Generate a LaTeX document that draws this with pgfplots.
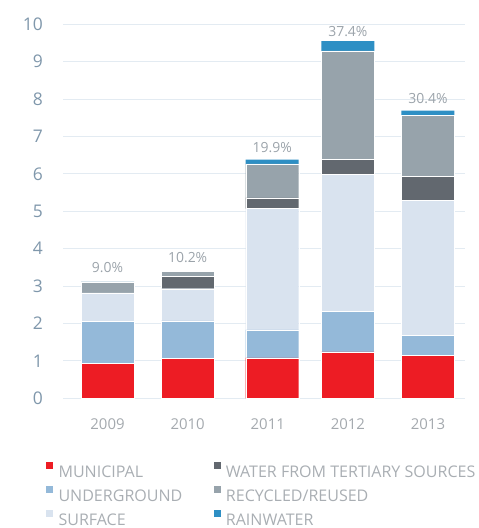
\documentclass[border=0pt]{standalone}
\usepackage{pgfplots}
\pgfplotsset{compat=1.18}
\usepackage{fontspec}
\setmainfont{Open Sans}
\definecolor{muni}{HTML}{ED1C24}
\definecolor{under}{HTML}{94B9D9}
\definecolor{surf}{HTML}{D9E3EF}
\definecolor{tert}{HTML}{62686F}
\definecolor{recy}{HTML}{97A3AB}
\definecolor{rain}{HTML}{2E8FC4}
\definecolor{gridc}{HTML}{E3EBF2}
\definecolor{ytc}{HTML}{7F97AB}
\definecolor{xtc}{HTML}{A4A9AE}
\definecolor{pct}{HTML}{9BA3AA}
\definecolor{legc}{HTML}{A9AEB3}
\begin{document}
\begin{tikzpicture}
\useasboundingbox (0,0) rectangle (479bp,528bp);
\begin{axis}[
  at={(63bp,129.7bp)}, anchor=south west,
  scale only axis, width=401.5bp, height=374bp,
  ybar stacked, bar width=53bp,
  xmin=-0.556, xmax=4.456, ymin=0, ymax=10,
  enlarge x limits=false, enlarge y limits=false,
  xtick={0,1,2,3,4}, xticklabels={2009,2010,2011,2012,2013},
  ytick={0,1,...,10},
  axis line style={draw=none}, major tick style={draw=none},
  ymajorgrids, grid style={gridc, line width=0.9bp},
  yticklabel style={font=\fontsize{17.5}{17.5}\selectfont, text=ytc, anchor=east, inner sep=0pt, xshift=-20bp},
  xticklabel style={font=\fontsize{15}{15}\selectfont, text=xtc, anchor=north, inner sep=0pt, yshift=-20bp},
  /pgf/number format/assume math mode=true,
  legend columns=2,
  legend image code/.code={\fill[#1] (0bp,2bp) rectangle (8bp,10bp); \path (13bp,2bp);},
  legend style={at={(-0.045,-0.167)}, anchor=north west, draw=none, fill=none,
    font=\fontsize{16.1}{16.1}\selectfont, text=legc, inner sep=0pt,
    row sep=8bp, column sep=0bp,
    nodes={inner sep=0pt, text height=12bp, text depth=0bp},
    /tikz/column 2/.append style={text width=154bp}},
  legend cell align=left,
  every axis plot/.append style={draw=white, line width=0.4bp},
]
\addplot[fill=muni, forget plot] coordinates {(0,0.94) (1,1.06) (2.056,1.08) (3,1.24) (4,1.15)};
\addplot[fill=under, forget plot] coordinates {(0,1.11) (1,1.01) (2.056,0.75) (3,1.09) (4,0.54)};
\addplot[fill=surf, forget plot] coordinates {(0,0.77) (1,0.86) (2.056,3.24) (3,3.66) (4,3.61)};
\addplot[fill=tert, forget plot] coordinates {(0,0) (1,0.34) (2.056,0.29) (3,0.39) (4,0.64)};
\addplot[fill=recy, forget plot] coordinates {(0,0.29) (1,0.12) (2.056,0.91) (3,2.91) (4,1.62)};
\addplot[fill=rain, draw=none, forget plot, point meta=explicit symbolic,
  nodes near coords, every node near coord/.append style={font=\fontsize{14}{14}\selectfont, text=pct, anchor=south, inner sep=0pt, yshift=9bp}]
  coordinates {(0,0.001) [9.0\%] (1,0.001) [10.2\%] (2.056,0.11) [19.9\%] (3,0.26) [37.4\%] (4,0.13) [30.4\%]};
\addlegendimage{fill=muni}\addlegendentry{MUNICIPAL}
\addlegendimage{fill=tert}\addlegendentry{WATER FROM TERTIARY SOURCES}
\addlegendimage{fill=under}\addlegendentry{UNDERGROUND}
\addlegendimage{fill=recy}\addlegendentry{RECYCLED/REUSED}
\addlegendimage{fill=surf}\addlegendentry{SURFACE}
\addlegendimage{fill=rain}\addlegendentry{RAINWATER}
\end{axis}
\end{tikzpicture}
\end{document}
